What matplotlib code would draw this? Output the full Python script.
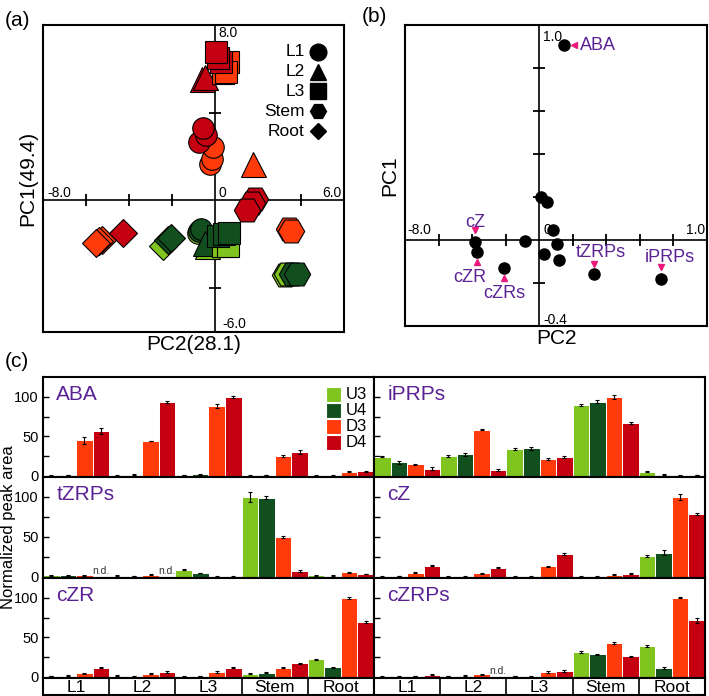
import numpy as np
import matplotlib
matplotlib.use("Agg")
import matplotlib.pyplot as plt
from matplotlib.patches import Rectangle
from matplotlib.transforms import ScaledTranslation

plt.rcParams['font.family'] = ['Liberation Sans', 'DejaVu Sans']

W, H = 709, 696
fig = plt.figure(figsize=(W / 100, H / 100), dpi=100)


def frac_box(x0, y0, x1, y1):
    return [x0 / W, 1 - y1 / H, (x1 - x0) / W, (y1 - y0) / H]


# ---------------- data ----------------
treatments = ['U3', 'U4', 'D3', 'D4']
tissues = ['L1', 'L2', 'L3', 'Stem', 'Root']
tr_colors = ['#80c41f', '#124f1f', '#ff3b0b', '#c40011']
tissue_markers = ['o', '^', 's', 'H', 'D']
marker_sizes = [15.5, 18, 16, 19, 14]
legend_msizes = [12, 12, 11.5, 11.5, 8]
PURPLE = '#5b2294'
PINK = '#ea1a7d'

# Panel (a): PCA scores (PC2, PC1) for replicates
scores_L1 = {'U3': [(-0.8, -1.5)],
             'U4': [(-0.75, -1.4), (-0.65, -1.3)],
             'D3': [(-0.25, 1.65), (-0.15, 1.9), (-0.1, 2.45)],
             'D4': [(-0.75, 2.65), (-0.4, 3.0), (-0.55, 3.3)]}
scores_L2 = {'U3': [(-0.35, -2.1)],
             'U4': [(-0.45, -1.95)],
             'D3': [(1.75, 1.65)],
             'D4': [(-0.6, 5.55), (-0.45, 5.65)]}
scores_L3 = {'U3': [(0.35, -2.1), (0.6, -2.1)],
             'U4': [(0.15, -1.6), (0.4, -1.55), (0.65, -1.5)],
             'D3': [(0.6, 6.3), (0.35, 5.8), (0.5, 5.85)],
             'D4': [(0.3, 6.3), (0.15, 6.5), (0.05, 6.75)]}
scores_Stem = {'U3': [(3.25, -3.4), (3.35, -3.35)],
               'U4': [(3.6, -3.35), (3.8, -3.35)],
               'D3': [(3.45, -1.3), (3.55, -1.4)],
               'D4': [(1.85, 0.05), (1.7, -0.1), (1.5, -0.45)]}
scores_Root = {'U3': [(-2.4, -2.1)],
               'U4': [(-2.2, -1.8), (-2.05, -1.7)],
               'D3': [(-5.25, -1.8), (-5.4, -1.85), (-5.55, -1.95)],
               'D4': [(-4.3, -1.5)]}
scores = [scores_L1, scores_L2, scores_L3, scores_Stem, scores_Root]

# Panel (b): loadings (PC2, PC1)
load_names = ['ABA', '', '', '', '', '', '', '', 'cZ', 'cZR', 'cZRs', 'tZRPs', 'iPRPs']
load_pc2 = [0.145, 0.008, 0.046, 0.084, 0.105, 0.028, 0.115, -0.086, -0.382, -0.372, -0.207, 0.326, 0.724]
load_pc1 = [0.908, 0.2, 0.177, 0.046, -0.018, -0.065, -0.092, -0.003, -0.011, -0.057, -0.129, -0.157, -0.18]

# Panel (c): normalized peak areas, order L1, L2, L3, Stem, Root
nan = np.nan
compounds = ['ABA', 'iPRPs', 'tZRPs', 'cZ', 'cZR', 'cZRPs']
vals = {
    'ABA': {'U3': [0.5, 0.5, 1.0, 0.3, 0.2], 'U4': [1.2, 1.5, 1.8, 0.8, 0.3],
            'D3': [45, 44, 88, 25, 5], 'D4': [57, 93, 100, 30, 5.5]},
    'iPRPs': {'U3': [24, 25, 34, 90, 5.3], 'U4': [17, 27, 34.6, 94, 1.5],
              'D3': [14.5, 58.5, 21.6, 99.6, 0.5], 'D4': [9, 7.3, 23.7, 67, 1.0]},
    'tZRPs': {'U3': [2, 1.5, 9, 100, 2], 'U4': [2, 1, 4.8, 99, 1.5],
              'D3': [2, 2.5, 0.3, 50, 5.5], 'D4': [nan, nan, 0.5, 7.5, 3.5]},
    'cZ': {'U3': [0.5, 0.3, 0.2, 0.3, 25.6], 'U4': [1, 0.5, 0.5, 0.5, 30.2],
           'D3': [5.3, 4.4, 13.3, 2.8, 100], 'D4': [14, 11.6, 28.5, 4, 79]},
    'cZR': {'U3': [1, 1.5, 0.3, 4, 22], 'U4': [1.5, 0.5, 1, 5, 12],
            'D3': [4.5, 4, 6, 11.5, 100], 'D4': [11.5, 6, 11.5, 17, 69]},
    'cZRPs': {'U3': [0.5, 1, 1, 31.7, 38.9], 'U4': [0.5, 1.5, 0.5, 28.4, 10.6],
              'D3': [1, 3.4, 6.3, 43, 100], 'D4': [2.5, nan, 7, 25.8, 71.4]},
}
errs = {
    'ABA': {'U3': [0.3, 0.3, 0.3, 0.2, 0.2], 'U4': [0.4, 0.5, 0.5, 0.3, 0.2],
            'D3': [4.5, 0.5, 2.5, 1.0, 0.5], 'D4': [3.5, 1.5, 1.5, 2.5, 0.5]},
    'iPRPs': {'U3': [0.8, 0.8, 0.8, 1.2, 0.5], 'U4': [1.5, 1.5, 1.8, 1.5, 0.3],
              'D3': [0.5, 0.5, 1.5, 2.5, 0.2], 'D4': [2.0, 1.0, 1.5, 1.5, 0.3]},
    'tZRPs': {'U3': [0.5, 0.5, 0.8, 6.0, 0.5], 'U4': [0.5, 0.5, 0.5, 2.0, 0.5],
              'D3': [0.5, 0.5, 0.2, 1.5, 0.8], 'D4': [0, 0, 0.3, 1.2, 0.5]},
    'cZ': {'U3': [0.3, 0.2, 0.2, 0.2, 1.2], 'U4': [0.3, 0.3, 0.3, 0.3, 3.0],
           'D3': [0.5, 0.5, 0.5, 0.3, 3.5], 'D4': [1.0, 1.0, 1.5, 0.5, 1.0]},
    'cZR': {'U3': [0.3, 0.3, 0.2, 0.5, 0.8], 'U4': [0.3, 0.2, 0.3, 0.5, 0.8],
            'D3': [0.8, 0.5, 0.8, 0.8, 1.0], 'D4': [0.8, 0.8, 0.8, 0.8, 1.5]},
    'cZRPs': {'U3': [0.3, 0.3, 0.3, 1.2, 1.0], 'U4': [0.3, 0.3, 0.3, 0.8, 1.2],
              'D3': [0.3, 0.5, 1.5, 1.2, 0.8], 'D4': [0.8, 0, 1.0, 1.0, 3.0]},
}

# ---------------- panel (a) ----------------
axA = fig.add_axes(frac_box(43, 25, 344, 332))
axA.set_xlim(-8, 6)
axA.set_ylim(-6, 8)
axA.set_xticks([])
axA.set_yticks([])
for s in axA.spines.values():
    s.set_linewidth(1.5)
axA.axhline(0, color='k', lw=1.2, zorder=1)
axA.axvline(0, color='k', lw=1.2, zorder=1)
a_xt = [-6, -4, -2, 2, 4]
a_yt = [-4, -2, 2, 4, 6]
axA.plot(a_xt, [0] * len(a_xt), ls='none', marker='|', ms=9, mew=1.3, color='k', zorder=1)
axA.plot([0] * len(a_yt), a_yt, ls='none', marker='_', ms=9, mew=1.3, color='k', zorder=1)
z = 3
for ti, t in enumerate(tissues):
    for k, tr in enumerate(treatments):
        pts = scores[ti][tr]
        for xx, yy in pts:
            axA.plot([xx], [yy], ls='none', marker=tissue_markers[ti], ms=marker_sizes[ti],
                     mfc=tr_colors[k], mec='k', mew=0.8, zorder=z)
            z += 0.01
tk = dict(fontsize=10, color='k', zorder=10)
axA.text(0.14, 7.63, '8.0', ha='left', va='center', **tk)
axA.text(-7.8, 0.33, '-8.0', ha='left', va='center', **tk)
axA.text(0.14, 0.33, '0', ha='left', va='center', **tk)
axA.text(5.9, 0.33, '6.0', ha='right', va='center', **tk)
axA.text(0.33, -5.63, '-6.0', ha='left', va='center', **tk)
# legend (a)
leg_y = [52, 72, 91, 111, 131]
for ti, t in enumerate(tissues):
    yf = (332 - leg_y[ti]) / 307
    axA.text(0.870, yf, t, transform=axA.transAxes, ha='right', va='center', fontsize=12.5)
    axA.plot([0.914], [yf], transform=axA.transAxes, marker=tissue_markers[ti],
             ms=legend_msizes[ti], color='k', ls='none')
axA.set_xlabel('PC2(28.1)', fontsize=15, labelpad=2)
axA.set_ylabel('PC1(49.4)', fontsize=15, labelpad=4)
fig.text(5 / W, 1 - 20 / H, '(a)', fontsize=15, ha='left', va='center')

# ---------------- panel (b) ----------------
axB = fig.add_axes(frac_box(405, 25, 707, 326))
axB.set_xlim(-0.8, 1.0)
axB.set_ylim(-0.4, 1.0)
axB.set_xticks([])
axB.set_yticks([])
for s in axB.spines.values():
    s.set_linewidth(1.5)
axB.axhline(0, color='k', lw=1.2, zorder=1)
axB.axvline(0, color='k', lw=1.2, zorder=1)
b_xt = [-0.6, -0.4, -0.2, 0.2, 0.4, 0.6, 0.8]
b_yt = [-0.2, 0.2, 0.4, 0.6, 0.8]
axB.plot(b_xt, [0] * len(b_xt), ls='none', marker='|', ms=9, mew=1.3, color='k', zorder=1)
axB.plot([0] * len(b_yt), b_yt, ls='none', marker='_', ms=9, mew=1.3, color='k', zorder=1)
axB.plot(load_pc2, load_pc1, ls='none', marker='o', ms=8, color='k', zorder=3)
axB.text(0.024, 0.946, '1.0', ha='left', va='center', **tk)
axB.text(-0.784, 0.046, '-8.0', ha='left', va='center', **tk)
axB.text(0.024, 0.046, '0', ha='left', va='center', **tk)
axB.text(0.99, 0.046, '1.0', ha='right', va='center', **tk)
axB.text(0.024, -0.37, '-0.4', ha='left', va='center', **tk)
# label styles: (arrow marker, arrow dx, dy, text dx, dy, ha, va) in points
lab_style = {
    'ABA': ('<', 7.7, 0.0, 12.0, -4.0, 'left', 'baseline'),
    'cZ': ('v', 0.0, 8.6, 0.0, 10.8, 'center', 'baseline'),
    'cZR': ('^', 0.0, -7.2, -4.8, -21.6, 'center', 'baseline'),
    'cZRs': ('^', 0.0, -7.4, 0.0, -21.8, 'center', 'baseline'),
    'tZRPs': ('v', 0.0, 7.2, 4.8, 12.0, 'center', 'baseline'),
    'iPRPs': ('v', 0.0, 8.4, 6.5, 12.0, 'center', 'baseline'),
}
for nm, xx, yy in zip(load_names, load_pc2, load_pc1):
    if not nm:
        continue
    m, adx, ady, tdx, tdy, ha, va = lab_style[nm]
    tr = axB.transData + ScaledTranslation(adx / 72, ady / 72, fig.dpi_scale_trans)
    axB.plot([xx], [yy], marker=m, ms=4.5, color=PINK, ls='none', transform=tr, zorder=4)
    axB.annotate(nm, xy=(xx, yy), xytext=(tdx, tdy), textcoords='offset points',
                 ha=ha, va=va, fontsize=13, color=PURPLE)
axB.set_xlabel('PC2', fontsize=15, labelpad=2)
axB.set_ylabel('PC1', fontsize=15, labelpad=4)
fig.text(362 / W, 1 - 17 / H, '(b)', fontsize=15, ha='left', va='center')

# ---------------- panel (c) ----------------
rows = [(377, 477), (477, 578), (578, 678)]
cols = [(43, 374), (374, 705)]
offs = [-0.375, -0.125, 0.125, 0.375]
xg = np.arange(len(tissues))
for i, cname in enumerate(compounds):
    r, c = i // 2, i % 2
    ax = fig.add_axes(frac_box(cols[c][0], rows[r][0], cols[c][1], rows[r][1]))
    for k, tr in enumerate(treatments):
        v = np.array(vals[cname][tr], dtype=float)
        e = np.array(errs[cname][tr], dtype=float)
        vplot = np.nan_to_num(v)
        ax.bar(xg + offs[k], vplot, width=0.25, color=tr_colors[k], edgecolor='white',
               linewidth=0.7, zorder=2)
        ok = ~np.isnan(v)
        ax.errorbar((xg + offs[k])[ok], v[ok], yerr=e[ok], fmt='none', ecolor='black',
                    elinewidth=0.8, capsize=1.6, capthick=0.8, zorder=3)
        for gi in np.where(~ok)[0]:
            ax.text(xg[gi] + offs[k], 1.0, 'n.d.', ha='center', va='bottom',
                    fontsize=7.5, color='#333333')
    ax.set_xlim(-0.5, 4.5)
    ax.set_ylim(-1.5, 125)
    ax.set_xticks([])
    ax.set_yticks([0, 50, 100])
    ax.set_yticks([25, 75], minor=True)
    ax.tick_params(axis='y', which='both', direction='in', width=1, labelsize=10.5, pad=3,
                   length=4)
    if c == 1:
        ax.set_yticklabels([])
    for s in ax.spines.values():
        s.set_linewidth(1.5)
    ax.text(0.04, 0.92, cname, transform=ax.transAxes, ha='left', va='top',
            fontsize=15, color=PURPLE)

# category boxes
for c in range(2):
    axc = fig.add_axes(frac_box(cols[c][0], 678, cols[c][1], 695))
    axc.set_xlim(-0.5, 4.5)
    axc.set_ylim(0, 1)
    axc.set_xticks([])
    axc.set_yticks([])
    for s in axc.spines.values():
        s.set_linewidth(1.5)
    for gi, t in enumerate(tissues):
        if gi > 0:
            axc.axvline(gi - 0.5, color='k', lw=1.2)
        axc.text(gi, 0.45, t, ha='center', va='center', fontsize=12.5)

# legend (c)
for k, tr in enumerate(treatments):
    y0 = 387 + 16 * k
    fig.patches.append(Rectangle((326 / W, 1 - (y0 + 15) / H), 15 / W, 15 / H,
                                 transform=fig.transFigure, facecolor=tr_colors[k],
                                 edgecolor='white', lw=0.8, zorder=5))
    fig.text(346 / W, 1 - (y0 + 7.5) / H, tr, fontsize=12, ha='left', va='center', zorder=6)

fig.text(9 / W, 1 - 527 / H, 'Normalized peak area', rotation=90, fontsize=12,
         ha='center', va='center')
fig.text(5 / W, 1 - 362 / H, '(c)', fontsize=15, ha='left', va='center')

fig.savefig('out.png', dpi=100)
